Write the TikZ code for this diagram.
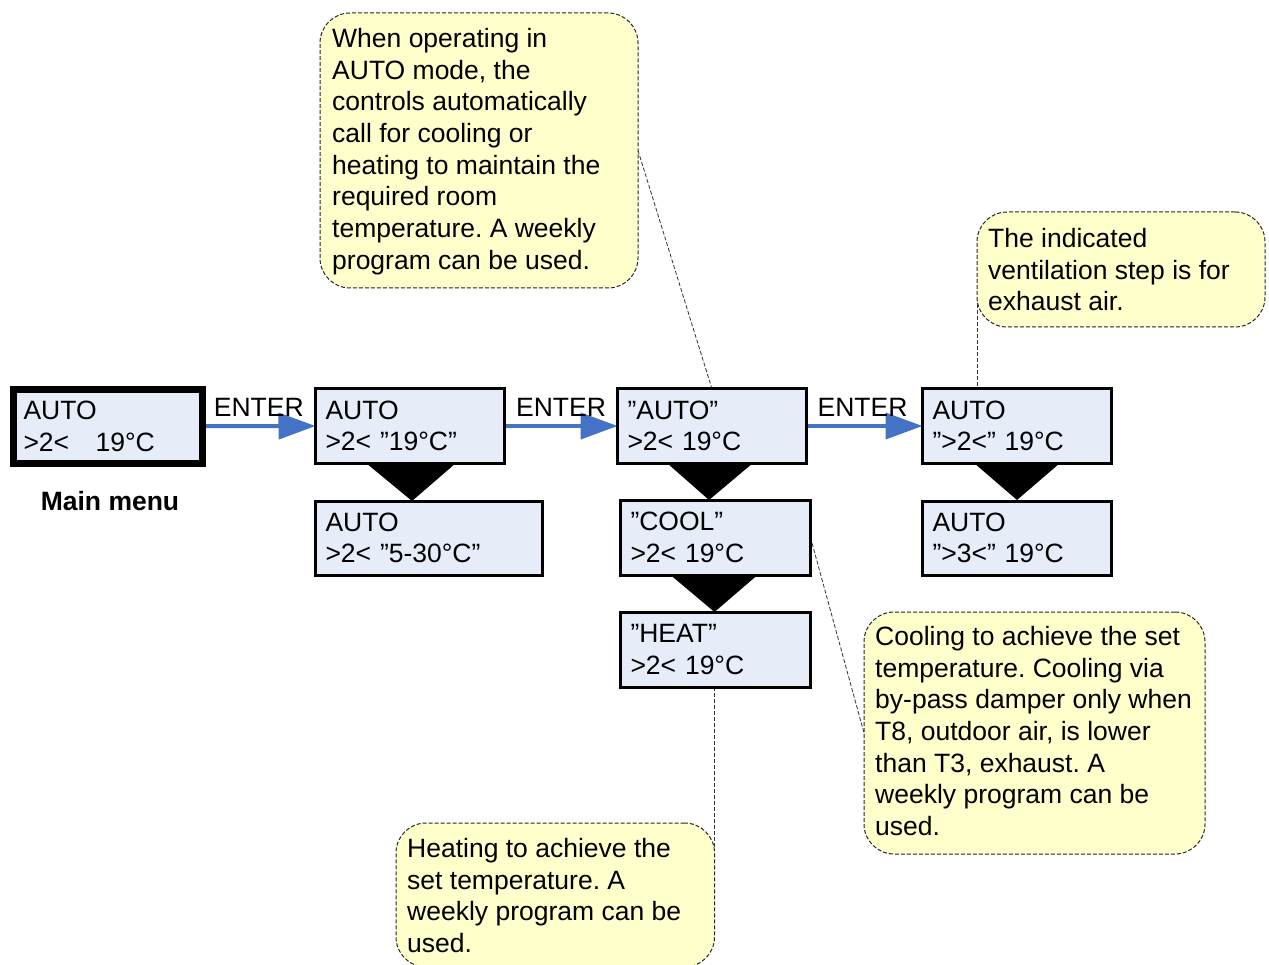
\documentclass[tikz,border=0pt]{standalone}
\usepackage{fontspec}
\setmainfont{Liberation Sans}
\usetikzlibrary{arrows.meta,backgrounds,calc}
\definecolor{boxfill}{RGB}{230,236,248}
\definecolor{notefill}{RGB}{255,255,204}
\definecolor{arrowblue}{RGB}{68,114,196}
\frenchspacing
\begin{document}
\begin{tikzpicture}[x=1pt,y=-1pt,
  txt/.style={font=\fontsize{26.5}{31.7}\selectfont},
  lcd/.style={txt,draw,line width=3pt,outer sep=0pt,fill=boxfill,minimum height=74pt,text width=#1,inner xsep=10pt,inner ysep=0pt,align=left,anchor=north west},
  note/.style={draw=black!85,dash pattern=on 4pt off 2pt,line width=1pt,outer sep=0pt,fill=notefill,rounded corners=30pt,anchor=north west,inner sep=0pt},
  notetext/.style={txt,anchor=north west,inner sep=0pt,align=left},
  lead/.style={draw=black!80,line width=0.8pt,dash pattern=on 4pt off 2pt},
  flow/.style={draw=arrowblue,line width=4pt,-{Triangle[length=37pt,width=26pt,fill=arrowblue]}},
  tri/.style={fill=black}]
\useasboundingbox (0,0) rectangle (1269,965);

% display boxes
\node[lcd=168.5pt,line width=7pt,minimum height=73.5pt] (b1) at (13.5,389.5) {AUTO\\>2<\ \ \ 19°C};
\node[lcd=169pt] (b2) at (315.5,389) {AUTO\\>2< ”19°C”};
\node[lcd=207pt] (b2b) at (315.5,501) {AUTO\\>2< ”5-30°C”};
\node[lcd=169pt] (b3) at (617.5,389) {”AUTO”\\>2< 19°C};
\node[lcd=170pt,minimum height=75pt] (cool) at (620.5,500) {”COOL”\\>2< 19°C};
\node[lcd=170pt,minimum height=75pt] (heat) at (620.5,612) {”HEAT”\\>2< 19°C};
\node[lcd=169pt] (b4) at (922.5,389) {AUTO\\”>2<” 19°C};
\node[lcd=169pt] (b4b) at (922.5,501) {AUTO\\”>3<” 19°C};

\node[txt,font=\fontsize{26.5}{31.7}\selectfont\bfseries,anchor=base] (mm) at (110,510) {Main menu};

% down triangles
\fill[tri] ($(b2.south)+(-44,0)$) -- ($(b2.south)+(46,0)$) -- ($(b2.south)+(2,38)$) -- cycle;
\fill[tri] ($(b3.south)+(-45,0)$) -- ($(b3.south)+(41,0)$) -- ($(b3.south)+(-3,37)$) -- cycle;
\fill[tri] ($(cool.south)+(-45,0)$) -- ($(cool.south)+(42,0)$) -- ($(cool.south)+(-1,37)$) -- cycle;
\fill[tri] ($(b4.south)+(-43,0)$) -- ($(b4.south)+(43,0)$) -- ($(b4.south)+(0,37)$) -- cycle;

% notes
\node[note,minimum width=318pt,minimum height=275pt] (c1) at (320,13) {};
\node[notetext] (c1t) at (332,28) {When operating in\\AUTO mode, the\\controls automatically\\call for cooling or\\heating to maintain the\\required room\\temperature. A weekly\\program can be used.};
\node[note,minimum width=288pt,minimum height=115pt] (c2) at (977,212) {};
\node[notetext] (c2t) at (988,228) {The indicated\\ventilation step is for\\exhaust air.};
\node[note,minimum width=341pt,minimum height=242pt] (c3) at (864,612) {};
\node[notetext] (c3t) at (875,626) {Cooling to achieve the set\\temperature. Cooling via\\by-pass damper only when\\T8, outdoor air, is lower\\than T3, exhaust. A\\weekly program can be\\used.};
\node[note,minimum width=318.5pt,minimum height=144pt] (c4) at (396,823) {};
\node[notetext] (c4t) at (407,838) {Heating to achieve the\\set temperature. A\\weekly program can be\\used.};

% ENTER labels
\node[txt,anchor=base,inner sep=0pt] (e1) at ($(b1.east)!0.5!(b2.west)+(0,-9.5)$) {ENTER};
\node[txt,anchor=base,inner sep=0pt] (e2) at ($(b2.east)!0.5!(b3.west)+(0,-9.5)$) {ENTER};
\node[txt,anchor=base,inner sep=0pt] (e3) at ($(b3.east)!0.5!(b4.west)+(-2,-9.5)$) {ENTER};

\begin{scope}[on background layer]
\draw[flow] (b1.east) -- (b2.west);
\draw[flow] (b2.east) -- (b3.west);
\draw[flow] (b3.east) -- (b4.west);
\draw[lead] (c1.east) -- (b3.north);
\draw[lead] ($(c2.south west)+(0,-29)$) -- (c2.west |- b4.north);
\draw[lead] (cool.east) -- (c3.west);
\draw[lead] (heat.south -| c4.east) -- ($(c4.north east)+(0,28)$);
\end{scope}
\end{tikzpicture}
\end{document}
